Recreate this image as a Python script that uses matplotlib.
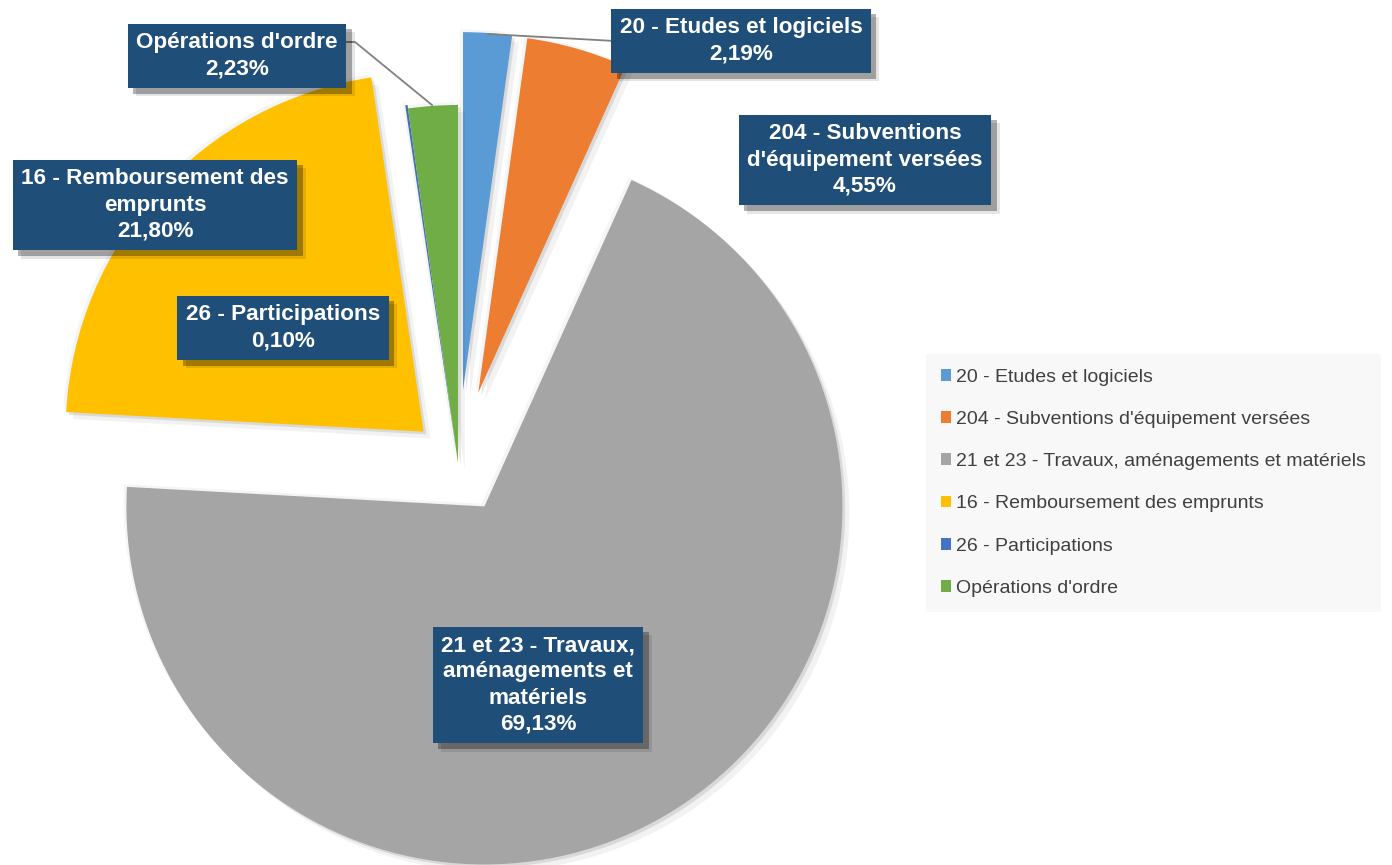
import matplotlib
matplotlib.use('Agg')
import matplotlib.pyplot as plt
import matplotlib.patheffects as pe
from matplotlib import font_manager

# ---------------- data ----------------
categories = ["20 - Etudes et logiciels",
              "204 - Subventions d'équipement versées",
              "21 et 23 - Travaux, aménagements et matériels",
              "16 - Remboursement des emprunts",
              "26 - Participations",
              "Opérations d'ordre"]
values = [2.19, 4.55, 69.13, 21.80, 0.10, 2.23]
label_texts = ["20 - Etudes et logiciels",
               "204 - Subventions\nd'équipement versées",
               "21 et 23 - Travaux,\naménagements et\nmatériels",
               "16 - Remboursement des\nemprunts",
               "26 - Participations",
               "Opérations d'ordre"]
colors = ['#5B9BD5', '#ED7D31', '#A5A5A5', '#FFC000', '#4472C4', '#70AD47']
explode = [0.204, 0.204, 0.142, 0.13, 0.01, 0.0]

# label box centres (pixels from top-left) – layout only
label_pos_px = [(741, 41), (865, 160), (538, 685), (155, 205), (283, 328), (237, 56)]

# ---------------- fonts ----------------
names = {f.name for f in font_manager.fontManager.ttflist}
if 'Liberation Sans Narrow' in names:
    fam = 'Liberation Sans Narrow'
    lab_fs, leg_fs = 19, 16
else:
    fam = 'Liberation Sans'
    lab_fs, leg_fs = 16.2, 14
plt.rcParams['font.family'] = [fam, 'DejaVu Sans']

W, H = 1392, 865
CX, CY, R = 458, 463, 358

fig = plt.figure(figsize=(W / 100, H / 100), dpi=100)
fig.patch.set_facecolor('white')
ax = fig.add_axes([0, 0, 1, 1])

wedges, _ = ax.pie(values, explode=explode, colors=colors, startangle=90,
                   counterclock=False, radius=1,
                   wedgeprops=dict(linewidth=0))
for w in wedges:
    w.set_path_effects([pe.SimplePatchShadow(offset=(-2, 2), shadow_rgbFace='black', alpha=0.04),
                        pe.SimplePatchShadow(offset=(2, -2), shadow_rgbFace='black', alpha=0.10),
                        pe.SimplePatchShadow(offset=(5, -5), shadow_rgbFace='black', alpha=0.05),
                        pe.Normal()])

ax.set_xlim(-CX / R, (W - CX) / R)
ax.set_ylim(-(H - CY) / R, CY / R)
ax.set_aspect('equal')
ax.axis('off')


def px(x, y):
    return (x - CX) / R, (CY - y) / R


# leader lines
ax.plot(*zip(*[px(342, 42), px(355, 42), px(432, 105)]), color='#808080', lw=1.3, zorder=3)
ax.plot(*zip(*[px(615, 41), px(488, 34)]), color='#808080', lw=1.3, zorder=3)

for txt, v, (lx, ly) in zip(label_texts, values, label_pos_px):
    s = txt + "\n" + f"{v:.2f}".replace('.', ',') + "%"
    t = ax.text(*px(lx, ly), s, ha='center', va='center', color='white',
                fontsize=lab_fs, fontweight='bold', linespacing=1.32, zorder=5,
                bbox=dict(boxstyle='square,pad=0.38', facecolor='#1F4E79', edgecolor='none'))
    t.get_bbox_patch().set_path_effects([
        pe.SimplePatchShadow(offset=(4, -4), shadow_rgbFace='black', alpha=0.30),
        pe.SimplePatchShadow(offset=(6, -6), shadow_rgbFace='black', alpha=0.10),
        pe.Normal()])

leg = fig.legend(wedges, categories, loc='upper left',
                 bbox_to_anchor=(926 / W, 1 - 354 / H), bbox_transform=fig.transFigure,
                 fontsize=leg_fs, frameon=True, fancybox=False, facecolor='#F8F8F8',
                 edgecolor='none', framealpha=1, handlelength=0.55, handleheight=0.55,
                 handletextpad=0.25, labelspacing=1.3, borderpad=0.75, borderaxespad=0)
for t in leg.get_texts():
    t.set_color('#404040')
for h in leg.legend_handles:
    h.set_path_effects([])

fig.savefig('out.png', dpi=100, facecolor='white')
